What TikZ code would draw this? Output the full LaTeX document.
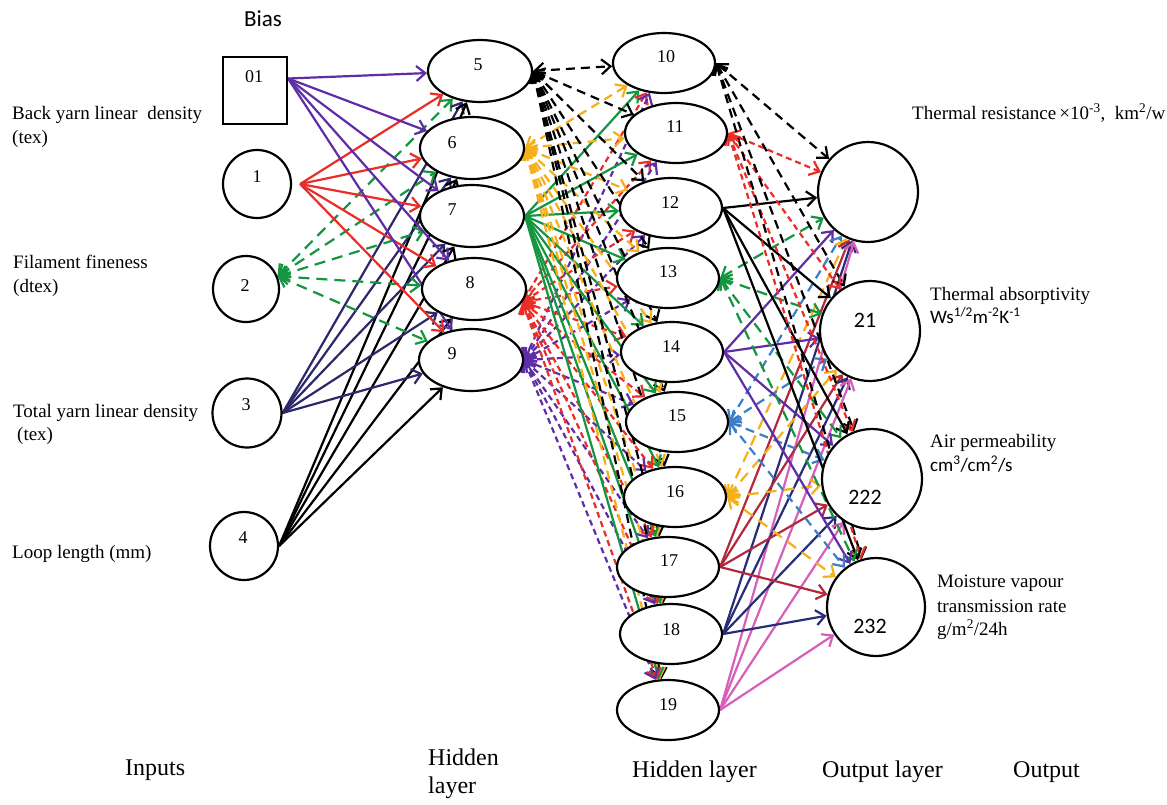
\documentclass[tikz,border=0pt]{standalone}
\usepackage{fontspec}
\setmainfont{Liberation Serif}
\newfontfamily\carl{Carlito}
\usetikzlibrary{shapes.geometric,arrows.meta}
\definecolor{cpur}{RGB}{95,45,165}
\definecolor{cred}{RGB}{235,45,40}
\definecolor{cgrn}{RGB}{20,150,65}
\definecolor{cnavy}{RGB}{45,40,105}
\definecolor{corg}{RGB}{245,175,25}
\definecolor{cblue}{RGB}{60,125,200}
\definecolor{cbrn}{RGB}{180,40,60}
\definecolor{cpink}{RGB}{215,95,185}
\definecolor{cnvb}{RGB}{40,45,120}
\pgfdeclarelayer{bg}
\pgfsetlayers{bg,main}
\tikzset{
  arr/.style={line width=2.2pt,-{Straight Barb[length=9pt,width=15pt]}},
  darr/.style={line width=2.2pt,{Straight Barb[length=9pt,width=15pt]}-{Straight Barb[length=9pt,width=15pt]},dash pattern=on 9pt off 6pt},
  sdash/.style={dash pattern=on 6pt off 4pt},
  ldash/.style={dash pattern=on 11pt off 7pt},
  shp/.style={draw,line width=2.2pt,fill=white,inner sep=0pt},
  inc/.style={shp,circle},
  hid/.style={shp,ellipse,minimum width=104pt,minimum height=62pt},
  hidb/.style={shp,ellipse,minimum width=102pt,minimum height=60pt},
  outc/.style={shp,circle,minimum size=100pt},
  num/.style={font=\fontsize{18}{20}\selectfont,inner sep=0pt},
  onum/.style={font=\carl\fontsize{22}{26}\selectfont,inner sep=0pt},
  lab/.style={font=\fontsize{19}{22}\selectfont,anchor=base west,inner sep=0pt},
  slab/.style={font=\carl\fontsize{19}{22}\selectfont,anchor=base west,inner sep=0pt},
  blab/.style={font=\fontsize{24}{28}\selectfont,anchor=base west,inner sep=0pt}
}
\begin{document}
\begin{tikzpicture}[x=1pt,y=-1pt]
\useasboundingbox (0,0) rectangle (1167,804);
\begin{pgfonlayer}{bg}
\fill[white] (0,0) rectangle (1167,804);
\end{pgfonlayer}
% input layer
\node[shp,rectangle,minimum width=64pt,minimum height=67pt] (b01) at (255,90.5) {};
\node[inc,minimum size=68pt] (n1) at (257,184) {};
\node[inc,minimum size=66pt] (n2) at (246,289) {};
\node[inc,minimum size=69pt] (n3) at (247,413) {};
\node[inc,minimum size=68pt] (n4) at (244,546) {};
% hidden 1
\node[hid] (n5) at (480,71) {};
\node[hid] (n6) at (472,148) {};
\node[hid] (n7) at (472,216) {};
\node[hid] (n8) at (474,289) {};
\node[hid] (n9) at (471,360) {};
% hidden 2
\node[hidb] (n10) at (664,63) {};
\node[hidb] (n11) at (676,133) {};
\node[hidb] (n12) at (671,208) {};
\node[hidb] (n13) at (668,278) {};
\node[hidb] (n14) at (672,352) {};
\node[hidb] (n15) at (677,422) {};
\node[hidb] (n16) at (675,497) {};
\node[hidb] (n17) at (668,567) {};
\node[hidb] (n18) at (671,634) {};
\node[hidb] (n19) at (668,710) {};
% outputs
\node[outc] (o1) at (868,192) {};
\node[outc] (o2) at (870,331) {};
\node[outc] (o3) at (872,479) {};
\node[outc,minimum size=98pt] (o4) at (876,607) {};
% numbers
\node[num] (t01) at (254,77) {01};
\node[num] (t1) at (257,177) {1};
\node[num] (t2) at (245,286) {2};
\node[num] (t3) at (246,405) {3};
\node[num] (t4) at (243,538) {4};
\node[num] (t5) at (478,65) {5};
\node[num] (t6) at (452,143) {6};
\node[num] (t7) at (452,210) {7};
\node[num] (t8) at (470,283) {8};
\node[num] (t9) at (452,354) {9};
\node[num] (t10) at (666,57) {10};
\node[num] (t11) at (675,127) {11};
\node[num] (t12) at (670,203) {12};
\node[num] (t13) at (668,272) {13};
\node[num] (t14) at (671,347) {14};
\node[num] (t15) at (677,416) {15};
\node[num] (t16) at (675,492) {16};
\node[num] (t17) at (669,561) {17};
\node[num] (t18) at (671,630) {18};
\node[num] (t19) at (668,705) {19};
\node[onum] (t21) at (865,320) {21};
\node[onum] (t222) at (865,497) {222};
\node[onum] (t232) at (870,626) {232};
% labels
\node[font=\carl\fontsize{23}{26}\selectfont,anchor=base,inner sep=0pt] (bias) at (263,26) {Bias};
\node[lab] (l1a) at (12,119) {Back yarn linear\ \ density};
\node[lab] (l1b) at (12,143) {(tex)};
\node[lab] (l2a) at (13,268) {Filament fineness};
\node[lab] (l2b) at (13,292) {(dtex)};
\node[lab] (l3a) at (13,417) {Total yarn linear density};
\node[lab] (l3b) at (17,440) {(tex)};
\node[lab] (l4) at (12,558) {Loop length (mm)};
\node[lab] (r1) at (912,119) {Thermal resistance\,×10\textsuperscript{-3},\ \ km\textsuperscript{2}/w};
\node[lab] (r2a) at (930,300) {Thermal absorptivity};
\node[slab] (r2b) at (930,323) {Ws\textsuperscript{1/2}m\textsuperscript{-2}K\textsuperscript{-1}};
\node[lab] (r3a) at (930,447) {Air permeability};
\node[slab] (r3b) at (930,471) {cm\textsuperscript{3}/cm\textsuperscript{2}/s};
\node[lab] (r4a) at (937,587) {Moisture vapour};
\node[lab] (r4b) at (937,612) {transmission rate};
\node[lab] (r4c) at (937,635) {g/m\textsuperscript{2}/24h};
\node[blab] (bInputs) at (125,775) {Inputs};
\node[blab] (bH1a) at (428,765) {Hidden};
\node[blab] (bH1b) at (428,793) {layer};
\node[blab] (bH2) at (632,777) {Hidden layer};
\node[blab] (bOL) at (822,777) {Output layer};
\node[blab] (bO) at (1013,777) {Output};
% connectors
\begin{pgfonlayer}{bg}
\foreach \t in {5,...,9}{
  \draw[arr,cpur] ([yshift=12pt]b01.east) -- (n\t);
  \draw[arr,cred] ([xshift=8pt]n1.east) -- (n\t);
  \draw[darr,ldash,cgrn] (n2.22) -- (n\t);
  \draw[arr,cnavy] (n3.east) -- (n\t);
  \draw[arr,black] (n4.east) -- (n\t);
}
\foreach \t in {10,...,19}{
  \draw[darr,black] (n5.east) -- (n\t);
  \draw[darr,corg] (n6.east) -- (n\t);
  \draw[arr,cgrn] (n7.east) -- (n\t);
  \draw[darr,sdash,cred] (n8.-15) -- (n\t);
  \draw[darr,sdash,cpur] (n9.east) -- (n\t);
}
\foreach \t in {o1,o2,o3,o4}{
  \draw[darr,black] (n10.east) -- (\t);
  \draw[darr,sdash,cred] (n11.east) -- (\t);
  \draw[arr,black] (n12.east) -- (\t);
  \draw[darr,ldash,cgrn] (n13.east) -- (\t);
  \draw[arr,cpur] (n14.east) -- (\t);
  \draw[darr,cblue] (n15.east) -- (\t);
  \draw[darr,ldash,corg] (n16.east) -- (\t);
  \draw[arr,cbrn] (n17.east) -- (\t);
  \draw[arr,cnvb] (n18.east) -- (\t);
  \draw[arr,cpink] (n19.east) -- (\t);
}
\end{pgfonlayer}
\end{tikzpicture}
\end{document}
